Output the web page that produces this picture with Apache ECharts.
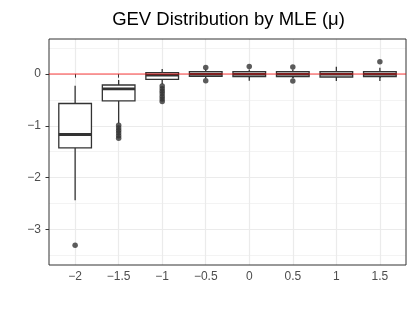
<!DOCTYPE html>
<html>
<head>
<meta charset="utf-8">
<script src="https://cdn.jsdelivr.net/npm/echarts@6/dist/echarts.min.js"></script>
<style>html,body{margin:0;padding:0;background:#fff;}#c{width:415px;height:312px;}</style>
</head>
<body>
<div id="c"></div>
<script>
// ---- data ----
var categories = ['−2', '−1.5', '−1', '−0.5', '0', '0.5', '1', '1.5'];
var lowerWhisker = [-2.44, -0.95, -0.19, -0.08, -0.125, -0.08, -0.13, -0.13];
var q1Values     = [-1.425, -0.518, -0.099, -0.04, -0.045, -0.045, -0.055, -0.045];
var medianValues = [-1.167, -0.286, -0.02, 0.0, 0.0, 0.0, 0.0, 0.0];
var q3Values     = [-0.567, -0.209, 0.029, 0.048, 0.048, 0.048, 0.048, 0.048];
var upperWhisker = [-0.226, -0.112, 0.10, 0.09, 0.09, 0.09, 0.145, 0.125];
var outlierCat   = [0, 1, 1, 1, 1, 1, 1, 2, 2, 2, 2, 2, 2, 2, 3, 3, 4, 5, 5, 7];
var outlierVal   = [-3.31, -0.99, -1.04, -1.09, -1.14, -1.19, -1.24,
                    -0.23, -0.28, -0.33, -0.38, -0.43, -0.48, -0.53,
                    0.13, -0.125, 0.15, 0.14, -0.13, 0.24];
var yTickValues  = [-3, -2, -1, 0];
var refLine = 0;

// ---- layout ----
var P = {left: 49, right: 406, top: 39, bottom: 265};
var YMIN = -3.69, YMAX = 0.68;
var k = (P.bottom - P.top) / (YMAX - YMIN);
var XLO = 0.4, XHI = 8.6; // ggplot discrete expansion
var kx = (P.right - P.left) / (XHI - XLO);
var firstC = P.left + (1 - XLO) * kx;
var lastC = P.left + (8 - XLO) * kx;
var YA_MIN = -4, YA_MAX = 1;

var font = 'Liberation Sans, Arial, sans-serif';
function fmt(v) { return v < 0 ? '−' + Math.abs(v) : String(v); }

var boxData = categories.map(function (c, i) {
  return [i, lowerWhisker[i], q1Values[i], medianValues[i], q3Values[i], upperWhisker[i]];
});
var outData = outlierCat.map(function (c, i) { return [c, outlierVal[i]]; });

var chart = echarts.init(document.getElementById('c'), null, {renderer: 'canvas'});
chart.setOption({
  animation: false,
  backgroundColor: '#ffffff',
  title: {
    text: 'GEV Distribution by MLE (μ)',
    left: (P.left + P.right) / 2 - 4, textAlign: 'center', top: 5,
    textStyle: {fontFamily: font, fontSize: 18.5, fontWeight: 'normal', color: '#000'}
  },
  grid: [
    {left: P.left, top: P.top, width: P.right - P.left, height: P.bottom - P.top,
     show: true, borderColor: '#333333', borderWidth: 1, backgroundColor: 'transparent', z: 5},
    {left: P.left, width: P.right - P.left,
     top: P.top - (YA_MAX - YMAX) * k, height: (YA_MAX - YA_MIN) * k},
    {left: firstC, width: lastC - firstC, top: P.top, height: P.bottom - P.top}
  ],
  xAxis: [
    {gridIndex: 0, type: 'value', min: 0, max: 1, show: false},
    {gridIndex: 1, type: 'value', min: 0, max: 1, show: false},
    {gridIndex: 2, type: 'category', data: categories, boundaryGap: false,
     axisLine: {show: false},
     axisTick: {show: true, length: 3.5, lineStyle: {color: '#333333', width: 1}},
     axisLabel: {fontFamily: font, fontSize: 12, color: '#4d4d4d', margin: 6},
     splitLine: {show: true, lineStyle: {color: '#ebebeb', width: 1.2}}}
  ],
  yAxis: [
    {gridIndex: 0, type: 'value', min: YMIN, max: YMAX, show: false},
    {gridIndex: 1, type: 'value', min: YA_MIN, max: YA_MAX, interval: 1,
     axisLine: {show: false},
     axisTick: {show: true, length: 3.5, customValues: yTickValues, lineStyle: {color: '#333333', width: 1}},
     axisLabel: {customValues: yTickValues, fontFamily: font, fontSize: 12, color: '#4d4d4d', margin: 8,
       formatter: function (v) { return (v < YMIN || v > YMAX) ? '' : fmt(v); }},
     splitLine: {show: true, lineStyle: {color: '#ebebeb', width: 1.2}},
     minorTick: {show: false, splitNumber: 2},
     minorSplitLine: {show: true, lineStyle: {color: '#f0f0f0', width: 0.8}}},
    {gridIndex: 2, type: 'value', min: YMIN, max: YMAX, show: false}
  ],
  series: [
    {
      type: 'custom', xAxisIndex: 2, yAxisIndex: 2, z: 3, clip: false,
      data: boxData,
      encode: {x: 0, y: [1, 2, 3, 4, 5]},
      renderItem: function (params, api) {
        var x = api.value(0);
        var pLo = api.coord([x, api.value(1)]);
        var pQ1 = api.coord([x, api.value(2)]);
        var pMed = api.coord([x, api.value(3)]);
        var pQ3 = api.coord([x, api.value(4)]);
        var pHi = api.coord([x, api.value(5)]);
        var half = api.size([1, 0])[0] * 0.75 / 2;
        var cx = pMed[0];
        var st = {stroke: '#333333', lineWidth: 1.3, fill: null};
        return {
          type: 'group',
          children: [
            {type: 'line', shape: {x1: cx, y1: pHi[1], x2: cx, y2: pQ3[1]}, style: st},
            {type: 'line', shape: {x1: cx, y1: pQ1[1], x2: cx, y2: pLo[1]}, style: st},
            {type: 'rect', shape: {x: cx - half, y: pQ3[1], width: 2 * half, height: pQ1[1] - pQ3[1]},
             style: {stroke: '#333333', lineWidth: 1.3, fill: '#ffffff'}},
            {type: 'line', shape: {x1: cx - half, y1: pMed[1], x2: cx + half, y2: pMed[1]},
             style: {stroke: '#333333', lineWidth: 2.8}}
          ]
        };
      }
    },
    {
      type: 'scatter', xAxisIndex: 2, yAxisIndex: 2, z: 4,
      data: outData, symbol: 'circle', symbolSize: 5.5,
      itemStyle: {color: '#333333'}
    },
    {
      type: 'line', xAxisIndex: 1, yAxisIndex: 1, z: 6, data: [],
      markLine: {
        silent: true, symbol: ['none', 'none'], label: {show: false},
        lineStyle: {color: 'rgba(255,0,0,0.5)', width: 1.6, type: 'solid'},
        data: [{yAxis: refLine}]
      }
    }
  ]
});
</script>
</body>
</html>
